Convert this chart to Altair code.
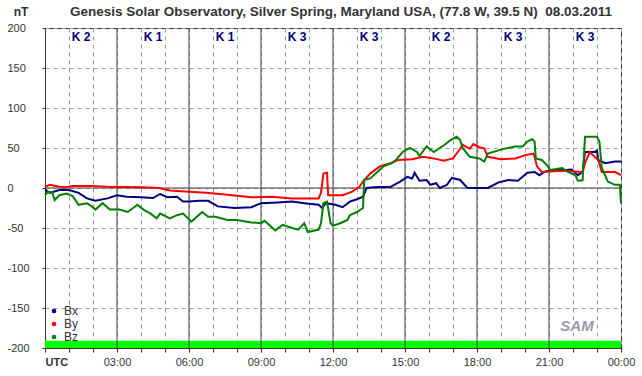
import altair as alt
import pandas as pd

TITLE = "Genesis Solar Observatory, Silver Spring, Maryland USA, (77.8 W, 39.5 N)\u00a0 08.03.2011"
UNIT = "nT"

components = ["Bx", "By", "Bz"]
colors = ["#000080", "#ff0000", "#008000"]

bx_hours = [0, 0.2, 0.6, 1.0, 1.4, 1.75, 2.1, 2.6, 3.0, 3.4, 4.0, 4.5, 4.8, 5.1, 5.5, 5.75, 6.0,
            6.4, 6.8, 7.2, 7.9, 8.6, 9.0, 9.7, 10.3, 10.8, 11.4, 11.55, 11.7, 12.1, 12.4, 12.7,
            13.0, 13.25, 13.4, 13.7, 14.4, 14.8, 15.1, 15.3, 15.4, 15.6, 15.9, 16.05, 16.3,
            16.45, 16.75, 16.95, 17.3, 17.6, 18.0, 18.45, 18.9, 19.3, 19.7, 19.9, 20.1, 20.4,
            20.6, 20.8, 21.1, 21.7, 21.95, 22.2, 22.4, 22.5, 22.9, 23.0, 23.05, 23.35, 23.75, 24]
bx_values = [-2, -6, -2.5, -2.5, -6, -13, -16, -13, -9, -11, -11.5, -12.5, -7.5, -11.5, -11, -17, -17,
             -16, -16, -23, -25, -24, -19, -18, -17, -19, -21, -25, -19, -21, -24, -17,
             -14, -11, 0, 1, 1.5, 8, 14, 12, 19, 9, 10, 4, 6,
             0, 4, 12.5, 10, 0, 0, 0, 7, 10, 9, 14, 19, 20,
             16, 20, 22.5, 22.5, 23, 16, 20, 45, 45, 47, 35, 31, 33, 33]

by_hours = [0, 0.2, 0.6, 0.9, 1.15, 1.9, 2.6, 4.0, 4.75, 5.2, 5.85, 6.7, 7.5, 8.6, 9.45, 10.3,
            11.4, 11.5, 11.6, 11.75, 11.8, 12.1, 12.4, 12.8, 13.1, 13.25, 13.55, 13.95, 14.4,
            14.7, 15.3, 15.75, 16.2, 16.6, 17.0, 17.3, 17.4, 17.7, 17.85, 18.1, 18.3, 18.45,
            19.0, 19.6, 20.0, 20.35, 20.4, 20.5, 20.7, 21.55, 22.4, 22.5, 22.7, 22.9, 23.05,
            23.2, 23.75, 24]
by_values = [1.5, 4, 1.5, 1, 2.5, 2.5, 1.5, 1, 0, -3, -4.5, -6, -8, -11.7, -11, -13,
             -13, -6, 18, 19, -9, -9, -9, -4.5, 1.5, 8, 18, 27, 31,
             35, 36, 39, 37, 34, 37, 49, 54, 49, 55, 51, 49.5, 39,
             36, 37, 41, 43, 39, 27, 20, 21.7, 20, 31, 45, 39, 35,
             20, 20, 16]

bz_hours = [0, 0.12, 0.3, 0.4, 0.6, 0.9, 1.15, 1.4, 1.75, 1.95, 2.1, 2.4, 2.7, 3.1, 3.45, 3.85,
            4.1, 4.4, 4.65, 4.8, 5.2, 5.5, 5.75, 6.0, 6.1, 6.55, 6.8, 7.1, 7.6, 8.0, 8.6, 9.0,
            9.15, 9.6, 9.9, 10.3, 10.55, 10.8, 10.95, 11.4, 11.5, 11.6, 11.75, 11.9, 12.0,
            12.3, 12.6, 12.7, 13.0, 13.25, 13.3, 13.55, 13.85, 14.1, 14.45, 14.65, 14.9, 15.2,
            15.5, 15.6, 15.9, 16.2, 16.45, 16.65, 16.9, 17.15, 17.3, 17.4, 17.7, 18.1, 18.3,
            18.45, 19.0, 19.6, 19.9, 20.1, 20.3, 20.4, 20.45, 20.7, 20.9, 21.05, 21.55, 21.8,
            22.1, 22.2, 22.4, 22.5, 23.0, 23.1, 23.2, 23.45, 23.75, 23.95, 24.0]
bz_values = [-9, -5, -5, -15, -9, -7, -10, -21, -19, -23, -27, -19, -27, -27, -30, -21,
             -27, -32, -38, -32, -38, -34, -32, -39, -42, -30, -36, -36, -40, -40, -43, -44,
             -41, -53, -46, -50, -52, -44, -55, -52, -44, -19, -17, -44, -47,
             -44, -40, -34, -30, -25, 10, 12, 20, 27, 31, 36, 45, 50,
             45, 40, 52, 45, 50, 54, 60, 64, 60, 50, 39, 37, 33,
             43, 48, 52, 52, 58, 61, 58, 37, 35, 29, 22.5, 25, 20,
             16, 9, 9.6, 64, 64, 58, 25, 8, 4, 4, -19]

k_index = [2, 1, 1, 3, 3, 2, 3, 3]

strip_hours = [0, 24]
strip_values = [-200, -191]

rows = []
for name, hs, vs in (("Bx", bx_hours, bx_values), ("By", by_hours, by_values), ("Bz", bz_hours, bz_values)):
    for h, v in zip(hs, vs):
        rows.append({"hour": h, "value": v, "comp": name})
lines_df = pd.DataFrame(rows)

FONT = "Liberation Sans"
DARK = "#333333"

xscale = alt.Scale(domain=[0, 24], nice=False, zero=False)
yscale = alt.Scale(domain=[-200, 200], nice=False, zero=False)

label_expr = ("datum.value == 0 ? 'UTC' : (datum.value % 3 == 0 ? "
              "((datum.value % 24 < 10 ? '0' : '') + (datum.value % 24) + ':00') : '')")

xaxis = alt.Axis(values=list(range(25)), title=None, grid=True, gridDash=[4, 4], gridColor="#a0a0a0",
                 tickSize=4, labelPadding=4, labelFontSize=11, labelColor=DARK, labelFont=FONT,
                 labelExpr=label_expr, labelFlush=False, labelOverlap=False,
                 labelAlign=alt.condition("datum.value == 0", alt.value("left"), alt.value("center")),
                 labelFontWeight=alt.condition("datum.value == 0", alt.value("bold"), alt.value("normal")),
                 domainColor=DARK, tickColor=DARK)
yaxis = alt.Axis(values=list(range(-200, 201, 50)), title=None, grid=True, gridDash=[4, 4],
                 gridColor="#a0a0a0", tickSize=3, labelAlign="left", labelPadding=35,
                 labelExpr="'' + datum.value", labelFontSize=11, labelColor=DARK, labelFont=FONT,
                 labelBaseline="middle", domainColor=DARK, tickColor=DARK)

strip = alt.Chart(pd.DataFrame({"h0": [strip_hours[0]], "h1": [strip_hours[1]],
                                "v0": [strip_values[0]], "v1": [strip_values[1]]})).mark_rect(
    color="#00ff00").encode(
    x=alt.X("h0:Q", scale=xscale, axis=xaxis), x2="h1:Q",
    y=alt.Y("v0:Q", scale=yscale, axis=yaxis), y2="v1:Q")

major = alt.Chart(pd.DataFrame({"hour": [3, 6, 9, 12, 15, 18, 21]})).mark_rule(
    color="#404040", strokeWidth=1).encode(x=alt.X("hour:Q", scale=xscale, axis=xaxis))

zero = alt.Chart(pd.DataFrame({"value": [0]})).mark_rule(color="#404040", strokeWidth=1).encode(
    y=alt.Y("value:Q", scale=yscale, axis=yaxis))

lines = alt.Chart(lines_df).mark_line(strokeWidth=2, interpolate="linear").encode(
    x=alt.X("hour:Q", scale=xscale, axis=xaxis),
    y=alt.Y("value:Q", scale=yscale, axis=yaxis),
    color=alt.Color("comp:N", scale=alt.Scale(domain=components, range=colors),
                    legend=alt.Legend(orient="none", legendX=3, legendY=277, title=None,
                                      symbolType="circle", symbolSize=5, symbolStrokeWidth=2.5,
                                      labelFontSize=12, labelFont=FONT, labelColor=DARK,
                                      rowPadding=-3, padding=0, labelOffset=4)),
    order="hour:Q")

kdf = pd.DataFrame({"slot": list(range(len(k_index))), "k": k_index})
klabels = alt.Chart(kdf).transform_calculate(
    mid="datum.slot * 3 + 1.5", label="'K ' + datum.k").mark_text(
    font=FONT, fontSize=12, fontWeight="bold", color="#000080", baseline="middle").encode(
    x=alt.X("mid:Q", scale=xscale, axis=xaxis), y=alt.value(8.5), text="label:N")

title = alt.Chart(pd.DataFrame({"t": [TITLE]})).mark_text(
    font=FONT, fontSize=13.5, fontWeight="bold", color=DARK, baseline="middle").encode(
    x=alt.value(296), y=alt.value(-16), text="t:N")

unit = alt.Chart(pd.DataFrame({"t": [UNIT]})).mark_text(
    font=FONT, fontSize=12, fontWeight="bold", color=DARK, baseline="middle").encode(
    x=alt.value(-24), y=alt.value(-16), text="t:N")

logo = alt.Chart(pd.DataFrame({"t": ["SAM"]})).mark_text(
    font=FONT, fontSize=15, fontWeight="bold", fontStyle="italic", color="#9a9aa8",
    baseline="middle").encode(x=alt.value(532), y=alt.value(298), text="t:N")

chart = alt.layer(strip, major, zero, lines, klabels, title, unit, logo).properties(
    width=576, height=320, autosize="none",
    padding={"left": 45, "top": 28, "right": 21, "bottom": 28},
    background="white").configure_view(stroke=DARK, strokeWidth=1)

chart.save("out.html", embed_options={"renderer": "svg", "actions": False})
